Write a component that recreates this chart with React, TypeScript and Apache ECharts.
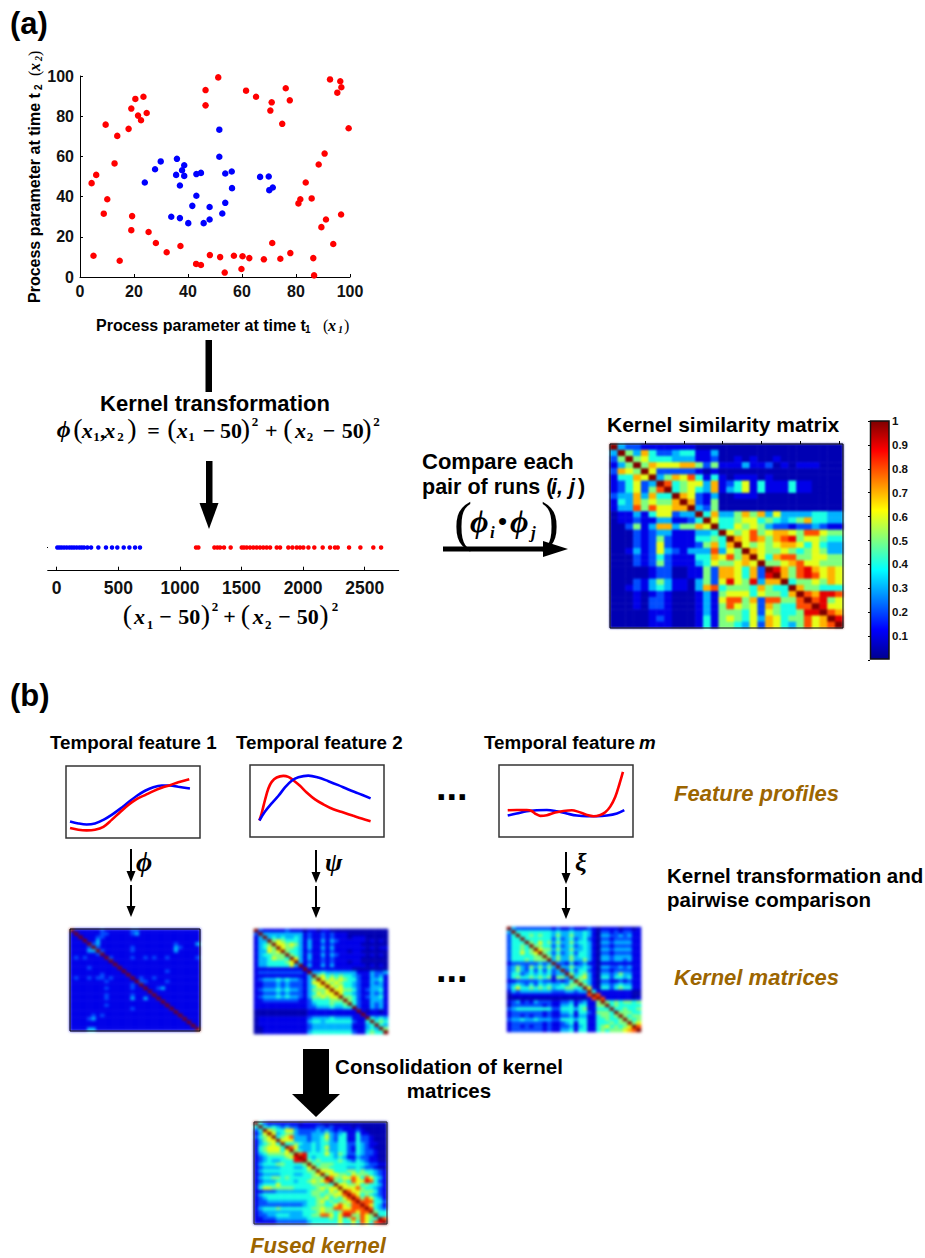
import React, { useEffect, useRef } from "react";
import * as echarts from "echarts";

const scatterOutside = [[4.3,46.7],[6,50.8],[5,10.6],[8.8,31.5],[10.1,38.7],[9.5,75.8],[13.8,70.2],[12.8,56.5],[14.7,8.1],[18,73.7],[19,83.8],[20.5,88.6],[23.5,89.7],[21.5,80.3],[22.6,78],[24.7,81.6],[19.3,30.3],[19,23.3],[25.4,22.4],[28.1,16.9],[32.1,12.3],[37.2,15.4],[43,6.5],[44.8,6],[48.1,10.9],[51.9,9.9],[53.6,2.2],[57,10.6],[60.2,10.3],[59.8,4],[62.7,9.4],[68.1,8.8],[74.2,9.1],[71.2,16.9],[77.9,11.9],[46.5,93],[46.5,85.4],[51.2,99.3],[61.5,92.7],[65.2,89.7],[71,86.9],[70.5,82.8],[74.9,76.2],[76.2,93.9],[77.7,87.9],[92.6,98.3],[96.4,97.4],[96.8,94.4],[95.3,91.7],[99.5,74],[90.6,61.4],[88.4,56],[83.6,47],[81.6,38.7],[80.9,36.6],[85.8,39.1],[96.7,31.1],[91.1,28.6],[89.4,24.8],[93.8,16.4],[86.4,9.4],[86.7,0.8]];
const scatterInside = [[24,47],[27.8,53.6],[29.9,57.5],[35.9,58.8],[35.6,50.8],[37.8,53.1],[38.6,55.6],[38.6,50.3],[37,45.5],[43.1,51.2],[44.8,51.8],[51.6,73.3],[51.6,59.8],[53.8,51.5],[56.2,52.5],[56.3,44.2],[66.7,49.8],[69.9,50],[70.1,43.2],[71.4,44.5],[43.1,40.4],[41.6,35.4],[48,34.8],[53.8,36.9],[52.7,31.6],[33.8,30],[37,29.3],[40.1,26.8],[45.8,26.8],[48,28.6]];
const stripInside = [5,22,40,60,81,103,122,141,162,184,203,222,249,279,338,400,449,492,544,590,636,676];
const stripOutside = [1131,1150,1280,1304,1326,1358,1412,1502,1520,1542,1569,1596,1623,1650,1677,1704,1732,1786,1813,1880,1913,1948,1975,2002,2043,2091,2159,2219,2259,2281,2373,2465,2570,2633];
const stripTicks = [0,500,1000,1500,2000,2500];

const matrixMain = [
"X3221 11111 10000 00000 00000 00000","3X537 42234 41130 00000 00000 00000","25X56 44433 31120 01010 01000 00000",
"135X5 76667 75251 11311 20101 11000","2765X 62222 21010 00000 00000 00000","14476 X3576 84141 01110 10000 00000",
"12462 3X845 66371 24614 11141 10000","12462 58X45 64371 34614 11141 10000","23373 744X7 62130 01110 00000 00000",
"14375 6557X 72150 00000 00000 00000","13385 86677 X3250 00000 00000 00000","01131 46623 3X473 35757 36333 34433",
"01121 13311 24X64 45664 54345 74433","00251 37735 576X4 46565 32212 23211","00021 23311 1334X 65685 67765 88655",
"00021 25211 14454 X7687 57895 66544","00021 26211 12574 7X656 56776 46433","00131 26321 33383 65X76 55654 56533",
"00021 24211 14476 857X6 47885 56655","00021 25211 13465 5676X 55678 66555","00000 12200 11527 76472 X9758 97676",
"00000 12200 11527 76472 9X758 98676","00021 35311 03526 96593 77X45 56576","00121 34311 03784 55547 544X7 55444",
"00010 12100 01315 66646 5547X 87998","00010 22100 01316 88572 88558 X8956","00010 22100 01315 86562 75448 8X966",
"00000 11100 01315 55462 65445 99X87","00000 12100 01415 65463 76455 867X9","00000 11100 01415 54362 76435 8678X",
];
const matrixFeature1 = [
"X1111 11211 11112 21111 11111 11111","1X111 11221 11112 31111 11111 11111","11X11 12211 11111 11111 11111 11111",
"111X1 13111 11111 11111 11111 11111","1111X 23111 11111 11111 11112 11113","11112 X2111 11112 11111 11113 21111",
"11113 3X211 11112 11111 11113 11111","11111 12X11 11111 11111 11111 11111","12121 111X2 11112 11212 11211 11112",
"11111 1111X 11111 11111 11111 11111","11111 11111 X1111 11111 11111 11111","11112 11111 1X111 11111 11111 11111",
"11111 11111 11X11 11111 11211 11111","11111 11211 111X1 11111 11111 11111","12112 12212 1111X 12112 11111 11111",
"11111 11121 11111 X2211 11211 11111","11111 11111 11112 1X111 11111 11111","11111 11121 11112 11X11 23111 11111",
"11111 11111 11111 111X1 11111 11111","11111 11121 11112 1111X 11111 11111","11111 11121 11113 11311 X1111 11111",
"11111 11111 11111 11111 1X111 11111","11111 11121 11111 11111 11X11 11111","11111 11111 11112 11111 111X1 11111",
"11111 11111 11111 11111 1111X 11111","11111 21211 11111 11111 11111 X1111","11112 31111 11111 11111 11111 1X111",
"11111 11111 11111 11111 11111 11X11","11111 11111 11111 11111 11111 111X1","11113 31111 11111 11111 11111 1111X",
];
const matrixFeature2 = [
"X2111 11211 10110 11000 00000 00000","2X333 33333 31211 21211 10000 00000","13X34 34334 31211 21211 10111 00000",
"133X5 65444 31311 31321 11111 01010","1345X 66565 31311 21211 11110 00000","13465 X6554 31311 31311 11111 01011",
"13365 6X544 31211 21211 10110 00000","13445 55X54 31311 31321 11111 01010","13346 554X6 31311 21211 11110 00000",
"13344 4456X 31211 21211 10110 00000","13344 44463 X1311 31311 11111 01010","11111 11111 1X111 11111 11000 00000",
"12222 22222 21X33 43333 33311 13223","11111 11111 113X5 64545 44321 13231","12333 43433 2135X 65656 54421 13341",
"11222 32322 21366 X6565 44321 13231","11222 32322 21346 6X656 44321 13331","12333 43433 21355 56X66 55421 23341",
"11222 32322 21346 566X6 44321 13231","12333 43433 21355 6566X 55421 23341","11222 22222 11244 44555 X5421 13331",
"11111 11111 11234 44544 5X421 13231","11111 11111 11223 33433 44X21 13231","00000 00000 00111 11111 111X1 01101",
"00000 00000 00111 11111 1111X 11111","01111 11111 11233 33433 33111 X4343","01111 11111 11344 34444 44211 4X454",
"01111 11111 11233 33333 33111 34X43","00111 11111 11233 33333 33111 343X5","00111 11111 11344 44444 44211 4544X",
];
const matrixFeatureM = [
"X3222 22222 12112 11121 01111 01101","3X444 44444 34334 33431 02212 12211","24X44 54544 35335 33431 03322 32311",
"244X4 44444 24234 23421 02212 22211","2444X 54645 35335 34431 03323 33311","24454 X5544 24234 23431 02212 22211",
"24454 5X655 35335 33431 03323 33311","24464 56X54 24234 24431 02212 22211","24444 455X5 35335 34431 03323 33311",
"24445 4555X 35335 33531 03323 32311","12222 22323 X2213 12311 01111 11111","23532 53535 3X335 33431 03322 32311",
"23532 42424 23X24 24421 02212 22211","24423 43434 233X5 34531 03323 53311","24544 54545 1553X 45631 04424 43411",
"11222 22322 12124 X5431 02211 21211","23432 42434 33435 5X531 03323 43311","24644 54545 34455 44X61 04424 54411",
"13233 33333 22233 233X4 11111 11100","01111 11111 11111 1118X 81111 11100","00000 00000 00000 00018 X8111 11101",
"12312 13222 11223 12311 5X545 45545","02222 22212 11334 14411 55X45 44444","23444 44444 22444 34511 444X4 45445",
"12222 22212 11334 14421 5554X 55544","12212 12212 11223 13311 45545 X5455","23343 34333 22444 34411 44544 5X545",
"12222 22212 11234 14411 44454 55X56","12212 12212 11223 13411 45645 456X8","12222 22212 11334 14411 45455 5678X",
];
const matrixFused = [
"X4211 11111 01111 00000 00000 00000","4X434 32322 11112 21211 11010 00000","24X65 44663 22223 23212 11121 00000",
"136X6 34553 22233 35323 41141 10000","2456X 45683 33233 46324 41142 21000","13566 X6663 33233 45324 41142 21000",
"13456 4X445 43343 44334 42243 21100","14566 64X86 33343 46334 42143 21000","14566 646X5 43343 45334 42143 22100",
"13455 5565X 89444 46435 42243 22100","12344 44569 X9434 44434 31132 21100","12343 34449 9X545 44445 43243 21100",
"13444 55444 45X54 55544 44444 32211","12333 34443 346X5 55444 43343 22100","13444 44444 4455X 66644 45545 44321",
"12333 34443 34456 X5665 54655 54321","13445 54544 44455 5X855 66864 86431","12333 44443 44565 68X54 54866 98421",
"13444 64444 44455 454X6 65564 54431","14665 55554 44445 6566X 66685 44321","11222 33333 33455 54656 X8665 55421",
"13444 44444 44455 45566 8X864 54321","12344 44444 44445 56454 68X85 86431","12233 33333 33445 64545 568X8 88442",
"12222 22222 23445 54468 6588X 86431","13444 54444 44455 65588 66888 X8432","12333 33333 34445 65545 88868 8X544",
"12233 44433 34455 88646 99558 65X44","11222 33333 33444 44546 45858 654X8","11111 22222 22344 44446 44648 6489X",
];

const profile1Blue = [[3,22.9],[9.2,20.2],[15.4,18.8],[21.6,20.2],[27.9,25.2],[34.1,32.1],[40.3,40.4],[46.5,49.5],[52.7,58.3],[59,65.6],[65.2,70.6],[71.4,72.9],[77.6,72.9],[83.8,71.1],[92.5,68.8]];
const profile1Red = [[3,13.8],[9.2,11.5],[15.4,10.6],[21.6,11.5],[27.9,15.6],[34.1,25.2],[40.3,35.8],[46.5,45.9],[52.7,54.1],[59,59.6],[65.2,65.1],[71.4,69.7],[77.6,73.4],[83.8,77.5],[92,81.7]];
const profile2Red = [[7,22.9],[8.7,33],[11.2,51.4],[13.7,67.4],[16.2,76.6],[19.9,82.6],[24.9,84.9],[28.6,83.5],[32.3,78.9],[37.3,71.1],[42.3,61.9],[48.5,52.3],[54.7,45.4],[62.2,38.5],[69.7,33.9],[77.1,29.4],[83.3,25.7],[90,22]];
const profile2Blue = [[7,22.9],[11.2,35.3],[16.2,46.8],[21.1,56.9],[26.1,68.8],[31.1,78],[36.1,83],[43.5,85.3],[51,82.6],[58.5,77.5],[65.9,72],[73.4,66],[80.8,60.6],[90,53.7]];
const profile3Blue = [[6.5,29.8],[13.2,32.6],[20.7,35.8],[28.2,37.2],[35.7,37.6],[43.1,35.8],[50.6,32.6],[58.1,29.8],[65.6,28.9],[73,28.9],[80.5,29.8],[88,32.6],[93.5,37.2]];
const profile3Red = [[6.5,37.2],[13.2,37.6],[20.7,37.6],[24.4,36.2],[26.9,32.6],[30.7,29.4],[35.7,30.3],[41.9,33.9],[48.1,36.2],[54.4,37.2],[59.4,34.9],[65.6,30.7],[70.6,28.9],[75.6,30.7],[79.3,34.4],[83,42.2],[86.8,56],[90,74.3],[92.5,90.4]];

const jet = ["#00008f","#0000ff","#007fff","#00ffff","#7fff7f","#ffff00","#ff7f00","#ff0000","#7f0000"];
const SANS = '"Liberation Sans", Arial, sans-serif';
const SERIF = '"Liberation Serif", "Times New Roman", serif';
const BROWN = "#9c6500";

const parseMatrix = (rows: string[]) => {
  const out: number[][] = [];
  rows.forEach((r, y) => {
    r.replace(/ /g, "").split("").forEach((c, x) => {
      out.push([x, y, c === "X" ? 1 : c === "0" ? 0.04 : Number(c) / 10]);
    });
  });
  return out;
};

const txt = (text: string, x: number, y: number, size: number, o: any = {}) => ({
  type: "text", x, y, z: 20, rotation: o.rotation || 0,
  style: {
    text, fontFamily: o.family || SANS, fontSize: size, fontWeight: o.weight || "bold",
    fontStyle: o.style || "normal", fill: o.fill || "#000",
    textAlign: o.align || "left", textVerticalAlign: "middle", align: o.align || "left", verticalAlign: "middle",
  },
});
const m = (text: string, x: number, base: number, size: number, o: any = {}) =>
  txt(text, x, base - size * 0.3, size, { family: SERIF, ...o });
const it = { style: "italic" };
const paren = { weight: "normal" };
const bi = { style: "italic", weight: "bold" };
const b = { weight: "bold" };

const formula = (ox: number, oy: number, items: any[]) =>
  items.map(([t, px, py, size, o]) => m(t, ox + px / 3, oy + py / 3, size, o));

const tri = (pts: number[][]) => ({ type: "polygon", z: 20, shape: { points: pts }, style: { fill: "#000" } });
const bar = (x: number, y: number, w: number, h: number) => ({ type: "rect", z: 20, shape: { x, y, width: w, height: h }, style: { fill: "#000" } });
const frame = (x: number, y: number, w: number, h: number, c = "#000") => ({ type: "rect", z: 15, shape: { x, y, width: w, height: h }, style: { fill: "none", stroke: c, lineWidth: 1 } });
const smallArrow = (x: number, y1: number, y2: number) => [
  bar(x - 1, y1, 2, y2 - y1 - 9), tri([[x - 4.5, y2 - 11], [x + 4.5, y2 - 11], [x, y2]]),
];

const range30 = Array.from({ length: 30 }, (_, i) => i);

const heatOption = (items: { box: any; rows: string[] }[]) => ({
  animation: false,
  tooltip: { show: false },
  grid: items.map((h) => h.box),
  xAxis: items.map((_, i) => ({ gridIndex: i, type: "category", data: range30, show: false })),
  yAxis: items.map((_, i) => ({ gridIndex: i, type: "category", data: range30, show: false, inverse: true })),
  visualMap: { show: false, min: 0, max: 1, dimension: 2, inRange: { color: jet } },
  series: items.map((h, i) => ({
    type: "heatmap", xAxisIndex: i, yAxisIndex: i, data: parseMatrix(h.rows), itemStyle: { borderWidth: 0 }, emphasis: { disabled: true },
  })),
});

const fullDiv: React.CSSProperties = { position: "absolute", left: 0, top: 0, width: 925, height: 1258 };

export default function App() {
  const ref = useRef<HTMLDivElement>(null);
  const refMain = useRef<HTMLDivElement>(null);
  const refSmall = useRef<HTMLDivElement>(null);
  useEffect(() => {
    const heatMain = echarts.init(refMain.current!, undefined, { renderer: "svg" });
    heatMain.setOption(heatOption([{ box: { left: 610, top: 444, width: 233, height: 184 }, rows: matrixMain }]));
    const heatSmall = echarts.init(refSmall.current!, undefined, { renderer: "svg" });
    heatSmall.setOption(heatOption([
      { box: { left: 70, top: 929, width: 130, height: 102 }, rows: matrixFeature1 },
      { box: { left: 254, top: 929, width: 134, height: 105 }, rows: matrixFeature2 },
      { box: { left: 507, top: 927, width: 134, height: 105 }, rows: matrixFeatureM },
      { box: { left: 254, top: 1122, width: 133, height: 102 }, rows: matrixFused },
    ]));

    const chart = echarts.init(ref.current!, undefined, { renderer: "svg" });
    const axisLabel = { fontFamily: SANS, fontWeight: "bold", fontSize: 16, color: "#111" };
    const profGrids = [
      { left: 66, top: 766, width: 134, height: 72 },
      { left: 250, top: 765, width: 134, height: 72 },
      { left: 499, top: 765, width: 134, height: 72 },
    ];
    const grids: any[] = [
      { left: 80, top: 76, width: 270, height: 201 },
      { left: 56.7, top: 535, width: 342, height: 35.7 },
      { left: 870, top: 421, width: 19, height: 239 },
      ...profGrids.map((g) => ({ ...g, show: true, borderColor: "#333", borderWidth: 1.5, backgroundColor: "#fff" })),
      { left: 610, top: 444, width: 233, height: 184 },
    ];
    const xAxes: any[] = [
      { gridIndex: 0, type: "value", min: 0, max: 100, interval: 20, splitLine: { show: false },
        axisLine: { show: true, lineStyle: { color: "#000" } }, axisTick: { show: true, inside: true, length: 3, lineStyle: { color: "#000" } }, axisLabel: { ...axisLabel, margin: 6 } },
      { gridIndex: 1, type: "value", min: 0, max: 2776, splitLine: { show: false },
        axisLine: { show: true, lineStyle: { color: "#000" } },
        axisTick: { show: true, inside: true, length: 4, customValues: stripTicks, lineStyle: { color: "#000" } },
        axisLabel: { ...axisLabel, fontSize: 17.5, margin: 8, customValues: stripTicks, formatter: (v: number) => String(v) } },
      { gridIndex: 2, type: "value", min: 0, max: 1, show: false },
      ...profGrids.map((_, i) => ({ gridIndex: 3 + i, type: "value", min: 0, max: 100, show: false })),
      { gridIndex: 6, type: "category", data: range30, position: "top",
        axisLine: { show: false }, axisLabel: { show: false },
        axisTick: { show: true, alignWithLabel: true, inside: false, length: 3, interval: (i: number) => i % 5 === 4, lineStyle: { color: "#000" } } },
    ];
    const yAxes: any[] = [
      { gridIndex: 0, type: "value", min: 0, max: 100, interval: 20, splitLine: { show: false },
        axisLine: { show: true, lineStyle: { color: "#000" } }, axisTick: { show: true, inside: true, length: 3, lineStyle: { color: "#000" } }, axisLabel: { ...axisLabel, margin: 6 } },
      { gridIndex: 1, type: "value", min: 0, max: 1, show: false },
      { gridIndex: 2, type: "value", min: 0, max: 1, interval: 0.1, position: "right", z: 25, splitLine: { show: false },
        axisLine: { show: false }, axisTick: { show: true, inside: true, length: 2, lineStyle: { color: "#000" } },
        axisLabel: { fontFamily: SANS, fontWeight: "bold", fontSize: 11.5, color: "#111", margin: 3, formatter: (v: number) => (v === 0 ? "" : String(v)) } },
      ...profGrids.map((_, i) => ({ gridIndex: 3 + i, type: "value", min: 0, max: 100, show: false })),
      { gridIndex: 6, type: "category", data: range30, show: false, inverse: true },
    ];
    const line = (grid: number, data: number[][], color: string) => ({
      type: "line", xAxisIndex: grid, yAxisIndex: grid, data, showSymbol: false, smooth: 0.35,
      lineStyle: { color, width: 2.6 }, silent: true,
    });
    const series: any[] = [
      { type: "scatter", xAxisIndex: 0, yAxisIndex: 0, data: scatterOutside, symbolSize: 6.5, itemStyle: { color: "#ff0000", opacity: 1 } },
      { type: "scatter", xAxisIndex: 0, yAxisIndex: 0, data: scatterInside, symbolSize: 6.5, itemStyle: { color: "#0000ff", opacity: 1 } },
      { type: "scatter", xAxisIndex: 1, yAxisIndex: 1, data: stripInside.map((v) => [v, 0.65]), symbolSize: 4.5, itemStyle: { color: "#0000ff", opacity: 1 } },
      { type: "scatter", xAxisIndex: 1, yAxisIndex: 1, data: stripOutside.map((v) => [v, 0.65]), symbolSize: 4.5, itemStyle: { color: "#ff0000", opacity: 1 } },
      line(3, profile1Blue, "#0000ff"), line(3, profile1Red, "#ff0000"),
      line(4, profile2Red, "#ff0000"), line(4, profile2Blue, "#0000ff"),
      line(5, profile3Blue, "#0000ff"), line(5, profile3Red, "#ff0000"),
    ];
    const up = Math.PI / 2;
    const graphic: any[] = [
      txt("(a)", 10, 23, 31),
      txt("(b)", 10, 695, 31),
      txt("Process parameter at time t", 96, 325, 16),
      txt("1", 305, 329, 10),
      txt("(", 323, 325, 16, { family: SERIF, weight: "normal" }),
      txt("x", 328, 325, 16, { family: SERIF, ...bi }),
      txt("1", 338, 329, 10, { family: SERIF, ...bi }),
      txt(")", 344, 325, 16, { family: SERIF, weight: "normal" }),
      txt("Process parameter at time t", 34, 303, 16, { rotation: up }),
      txt("2", 38, 90, 10, { rotation: up }),
      txt("(", 34, 76, 16, { family: SERIF, weight: "normal", rotation: up }),
      txt("x", 34, 71, 16, { family: SERIF, ...bi, rotation: up }),
      txt("2", 38, 61, 10, { family: SERIF, ...bi, rotation: up }),
      txt(")", 34, 56, 16, { family: SERIF, weight: "normal", rotation: up }),

      bar(205.5, 340, 6.5, 52),
      txt("Kernel transformation", 215, 403, 22, { align: "center" }),
      ...formula(40, 380, [
        ["ϕ", 50, 170, 24, bi],
        ["(", 100, 170, 28, paren], ["x", 125, 170, 22, bi], ["1", 160, 180, 13, b],
        [",", 180, 170, 22, b], ["x", 193, 170, 22, bi], ["2", 232, 180, 13, b],
        [")", 262, 170, 28, paren], ["=", 322, 170, 22, b],
        ["(", 382, 170, 28, paren], ["x", 410, 170, 22, bi], ["1", 445, 180, 13, b],
        ["−", 488, 170, 22, b], ["50", 540, 170, 22, b], [")", 602, 170, 28, paren], ["2", 635, 135, 13, b],
        ["+", 675, 170, 22, b], ["(", 730, 170, 28, paren], ["x", 765, 170, 22, bi], ["2", 800, 180, 13, b],
        ["−", 848, 170, 22, b], ["50", 905, 170, 22, b], [")", 967, 170, 28, paren], ["2", 1000, 135, 13, b],
      ]),
      bar(206, 461, 6.5, 45), tri([[199.5, 503], [218.5, 503], [209, 529]]),
      bar(47.3, 570, 10, 1),
      bar(47, 547, 1, 1),
      ...formula(30, 530, [
        ["(", 278, 280, 28, paren], ["x", 312, 280, 22, bi], ["1", 350, 295, 13, b],
        ["−", 388, 280, 22, b], ["50", 445, 280, 22, b], [")", 512, 280, 28, paren], ["2", 545, 240, 13, b],
        ["+", 580, 280, 22, b], ["(", 632, 280, 28, paren], ["x", 668, 280, 22, bi], ["2", 705, 295, 13, b],
        ["−", 745, 280, 22, b], ["50", 800, 280, 22, b], [")", 868, 280, 28, paren], ["2", 905, 240, 13, b],
      ]),
      txt("Compare each", 422, 461, 22),
      txt("pair of runs (", 422, 487, 21.5),
      txt("i, j", 551, 487, 21.5, it),
      txt(")", 578, 487, 21.5),
      m("(", 454, 538, 54, paren), m(")", 541, 538, 54, paren),
      m("ϕ", 470, 531, 32, bi), m("i", 490, 538, 17, bi),
      m("•", 498, 529, 26, b),
      m("ϕ", 510, 531, 32, bi), m("j", 531, 538, 17, bi),
      bar(443, 546.5, 103, 5), tri([[543, 541], [543, 557], [568, 549]]),

      txt("Kernel similarity matrix", 607, 424, 21),
      frame(610, 444, 233, 184),
      { type: "rect", z: 5, shape: { x: 870.5, y: 421, width: 18.5, height: 238 },
        style: { stroke: "#111", lineWidth: 1.5, fill: new echarts.graphic.LinearGradient(0, 0, 0, 1, jet.map((_, i) => ({ offset: i / (jet.length - 1), color: jet[jet.length - 1 - i] }))) } },

      txt("Temporal feature 1", 50, 742, 18.8),
      txt("Temporal feature 2", 236, 742, 18.8),
      txt("Temporal feature ", 484, 742, 18.8),
      txt("m", 639, 742, 18.8, it),
      txt("Feature profiles", 674, 793, 22, { style: "italic", fill: BROWN }),
      txt("...", 436, 787, 38),
      txt("Kernel transformation and", 667, 875, 20.5),
      txt("pairwise comparison", 667, 899, 20.5),
      ...smallArrow(131, 849, 882), ...smallArrow(131, 885, 917),
      ...smallArrow(316, 850, 883), ...smallArrow(316, 886, 918),
      ...smallArrow(566, 852, 884), ...smallArrow(566, 887, 919),
      m("ϕ", 136, 870, 28, bi),
      m("ψ", 325, 870, 26, bi),
      m("ξ", 575, 870, 26, bi),
      frame(70, 929, 130, 102),
      txt("...", 436, 969, 38),
      txt("Kernel matrices", 674, 977, 22, { style: "italic", fill: BROWN }),
      bar(303, 1049, 26, 47), tri([[292, 1094], [340, 1094], [316, 1117]]),
      txt("Consolidation of kernel", 449, 1066, 20.5, { align: "center" }),
      txt("matrices", 449, 1090, 20.5, { align: "center" }),
      frame(254, 1122, 133, 102, "#222"),
      txt("Fused kernel", 318, 1245, 22, { style: "italic", fill: BROWN, align: "center" }),
    ];
    chart.setOption({
      animation: false,
      tooltip: { show: false },
      grid: grids,
      xAxis: xAxes,
      yAxis: yAxes,
      series,
      graphic: { elements: graphic },
    });
    return () => { chart.dispose(); heatMain.dispose(); heatSmall.dispose(); };
  }, []);
  return (
    <div style={{ ...fullDiv, background: "#fff" }}>
      <div ref={refMain} style={{ ...fullDiv, filter: "blur(1px)" }} />
      <div ref={refSmall} style={{ ...fullDiv, filter: "blur(1.4px)" }} />
      <div ref={ref} style={fullDiv} />
    </div>
  );
}
